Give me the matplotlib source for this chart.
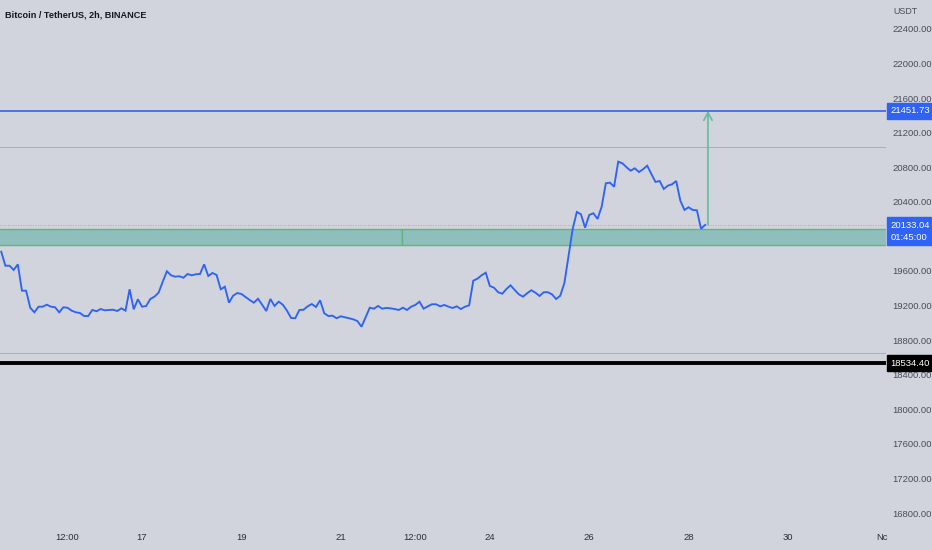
# -*- coding: utf-8 -*-

""" BTC/USDT 2h chart with key levels, drawn like a TradingView snapshot """

import matplotlib
matplotlib.use("Agg")
import matplotlib.pyplot as plt
import matplotlib.dates as mdates
import matplotlib.transforms as mtrans
from matplotlib.patches import Rectangle
import pandas as pd

# => DATA
START = "2022-10-14 04:00"
CLOSES = [
    19823, 19661, 19661, 19612, 19677, 19372, 19372, 19175, 19122, 19187,
    19187, 19210, 19187, 19180, 19122, 19180, 19175, 19141, 19122, 19114,
    19079, 19079, 19149, 19134, 19160, 19145, 19149, 19152, 19137, 19168,
    19141, 19388,
    19157, 19273, 19187, 19195, 19276, 19303, 19349, 19476, 19597, 19550,
    19534, 19539, 19522, 19565, 19550, 19562, 19565, 19677, 19542, 19577,
    19554, 19388, 19418, 19233, 19314, 19345, 19334, 19299, 19264, 19233,
    19279, 19210, 19137, 19276, 19195, 19245, 19210, 19141, 19056, 19053,
    19149, 19152, 19191, 19218, 19183, 19261, 19111, 19079, 19083, 19053,
    19076, 19064, 19053, 19041, 19021, 18955, 19064, 19175, 19164, 19195,
    19164, 19172, 19168, 19160, 19149, 19175, 19149, 19187, 19207, 19245,
    19164, 19191, 19215, 19215, 19191, 19207, 19187, 19172, 19191, 19160,
    19187, 19203, 19488, 19511, 19550, 19580, 19426, 19407, 19354, 19337,
    19392,
    19434, 19380, 19330, 19303, 19342, 19377, 19349, 19311, 19354, 19354,
    19330, 19276, 19314, 19461, 19773, 20086, 20283, 20256, 20101, 20248,
    20268, 20202, 20344, 20615, 20622,
    20575, 20865, 20846, 20800, 20760, 20788, 20745, 20777, 20818, 20722,
    20630, 20641, 20549, 20587, 20603, 20641, 20413, 20306, 20337, 20306,
    20302, 20089, 20133.04,
]

LAST_PRICE = 20133.04
COUNTDOWN = "01:45:00"
TARGET = 21451.73
SUPPORT = 18534.40
GRAY_LEVELS = [21035, 18651]
ZONE = (19900, 20090)
ZONE_SPLIT = "2022-10-22 05:30"
ARROW_TIME = "2022-10-28 09:20"

# 20000 sits under the last-price tag, so it is left out
Y_TICKS = [16800, 17200, 17600, 18000, 18400, 18800, 19200, 19600,
           20400, 20800, 21200, 21600, 22000, 22400]
X_TICKS = ["2022-10-15 12:00", "2022-10-17", "2022-10-19", "2022-10-21",
           "2022-10-22 12:00", "2022-10-24", "2022-10-26", "2022-10-28",
           "2022-10-30"]
X_LABELS = ["12:00", "17", "19", "21", "12:00", "24", "26", "28", "30"]
X_RANGE = ("2022-10-14 03:24", "2022-10-31 23:20")
Y_RANGE = (16696, 22735)

# => THEME
BG = "#d1d4dc"
BLUE = "#2e63f6"
ZONE_FILL = "#8fbfbd"
ZONE_EDGE = "#5cb878"
ARROW = "#66bc9c"
TEXT = "#4a4d57"
FS = 6.8

plt.rcParams["font.family"] = ["Liberation Sans", "DejaVu Sans"]

times = pd.date_range(START, periods=len(CLOSES), freq="2h")

fig = plt.figure(figsize=(9.32, 5.5), dpi=100, facecolor=BG)
ax = fig.add_axes([0, 28 / 550, 886 / 932, 522 / 550], facecolor=BG)

x0, x1 = pd.Timestamp(X_RANGE[0]), pd.Timestamp(X_RANGE[1])
ax.set_xlim(x0, x1)
ax.set_ylim(*Y_RANGE)

# -> LEVELS
for lvl in GRAY_LEVELS:
    ax.axhline(lvl, color="#a5a8b0", lw=0.6, zorder=1)
ax.axhline(LAST_PRICE, color="#e3a3ab", lw=0.9, ls=(0, (1, 1)), zorder=1)

split = pd.Timestamp(ZONE_SPLIT)
for a, b in [(x0 - pd.Timedelta("1D"), split), (split, x1 + pd.Timedelta("1D"))]:
    ax.add_patch(Rectangle((mdates.date2num(a), ZONE[0]),
                           mdates.date2num(b) - mdates.date2num(a),
                           ZONE[1] - ZONE[0],
                           facecolor=ZONE_FILL, edgecolor=ZONE_EDGE, lw=1.0, zorder=2))

ax.axhline(TARGET, color=BLUE, lw=1.2, zorder=3)
ax.axhline(SUPPORT, color="black", lw=2.8, zorder=3)

# -> PRICE
ax.plot(times, CLOSES, color=BLUE, lw=1.35, zorder=4, solid_joinstyle="miter")

# -> TARGET ARROW
at = pd.Timestamp(ARROW_TIME)
ax.annotate("", xy=(at, TARGET), xytext=(at, LAST_PRICE),
            arrowprops=dict(arrowstyle="->,head_length=0.55,head_width=0.3",
                            color=ARROW, lw=1.2, shrinkA=0, shrinkB=0),
            zorder=5)

# -> AXES STYLE
for s in ax.spines.values():
    s.set_visible(False)
ax.yaxis.tick_right()
ax.set_yticks(Y_TICKS)
ax.set_yticklabels([f"{v:.2f}" for v in Y_TICKS])
ax.tick_params(axis="y", length=0, pad=4.5, labelsize=FS, labelcolor=TEXT)
ax.set_xticks([pd.Timestamp(t) for t in X_TICKS])
ax.set_xticklabels(X_LABELS)
ax.tick_params(axis="x", length=0, pad=8, labelsize=FS, labelcolor="#2a2e39")

# "Nov" label cut by the price scale
fig.text(888 / 932, 13 / 550, "Nc", ha="right", va="center",
         fontsize=FS, color="#2a2e39")

fig.text(893 / 932, 1 - 11 / 550, "USDT", ha="left", va="center",
         fontsize=FS - 0.4, color=TEXT)
fig.text(5 / 932, 1 - 15 / 550, "Bitcoin / TetherUS, 2h, BINANCE", ha="left",
         va="center", fontsize=6.6, fontweight="bold", color="#131722")

# -> PRICE SCALE TAGS
tr = mtrans.blended_transform_factory(ax.transAxes, ax.transData)
tag = dict(xycoords=tr, textcoords="offset points", ha="left", va="center",
           fontsize=FS, color="white", annotation_clip=False, zorder=10)
ax.annotate(f"{TARGET:.2f}", xy=(1, TARGET), xytext=(3.3, 0),
            bbox=dict(boxstyle="square,pad=0.35", fc=BLUE, ec=BLUE), **tag)
ax.annotate(f"{LAST_PRICE:.2f}\n{COUNTDOWN}", xy=(1, LAST_PRICE), xytext=(3.3, -4.5),
            linespacing=1.45,
            bbox=dict(boxstyle="square,pad=0.35", fc=BLUE, ec=BLUE), **tag)
ax.annotate(f"{SUPPORT:.2f}", xy=(1, SUPPORT), xytext=(3.3, 0),
            bbox=dict(boxstyle="square,pad=0.35", fc="black", ec="black"), **tag)

fig.savefig("out.png", dpi=100, facecolor=BG)
